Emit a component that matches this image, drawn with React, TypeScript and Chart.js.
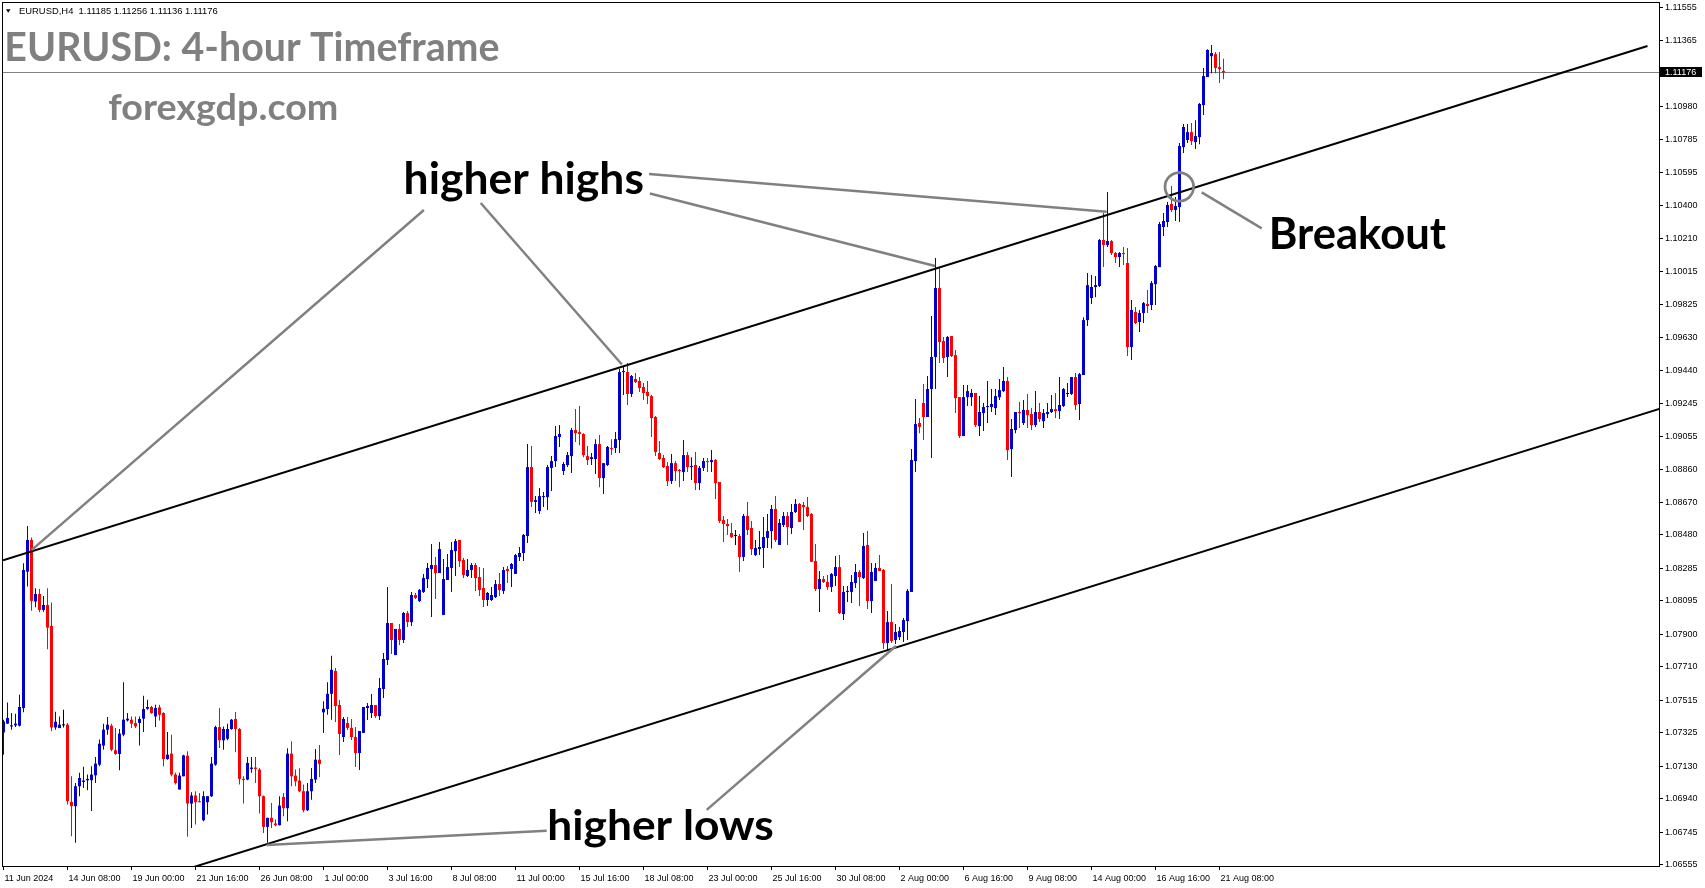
import React, { useEffect, useRef } from "react";
import { Chart, registerables } from "chart.js";

Chart.register(...registerables);

// ---- EURUSD H4 candles (11 Jun 2024 16:00 .. 21 Aug 2024 12:00), one entry per bar ----
const opens = [
  1.07328,1.07379,1.07363,1.07369,1.07367,1.07470,1.08265,1.08450,1.08091,1.08135,
  1.08042,1.08071,1.07949,1.07357,1.07353,1.07369,1.07373,1.06923,1.06898,1.07014,
  1.07039,1.07049,1.07049,1.07078,1.07140,1.07251,1.07344,1.07367,1.07224,1.07202,
  1.07315,1.07398,1.07402,1.07383,1.07383,1.07408,1.07466,1.07476,1.07421,1.07474,
  1.07441,1.07173,1.07204,1.07082,1.06995,1.07072,1.07192,1.06913,1.06960,1.06927,
  1.06816,1.06921,1.06956,1.07140,1.07359,1.07282,1.07291,1.07348,1.07406,1.07348,
  1.07057,1.07053,1.07115,1.07123,1.07111,1.06956,1.06777,1.06830,1.06797,1.06787,
  1.06952,1.06886,1.07204,1.07076,1.07047,1.06985,1.06874,1.06985,1.07053,1.07169,
  1.07445,1.07464,1.07553,1.07686,1.07488,1.07301,1.07383,1.07354,1.07301,1.07208,
  1.07325,1.07470,1.07441,1.07488,1.07423,1.07581,1.07750,1.07966,1.07779,1.07931,
  1.07867,1.08024,1.07971,1.08129,1.08094,1.08147,1.08222,1.08281,1.08304,1.08257,
  1.08013,1.08217,1.08287,1.08385,1.08450,1.08333,1.08240,1.08275,1.08304,1.08234,
  1.08170,1.08100,1.08100,1.08117,1.08193,1.08153,1.08281,1.08281,1.08252,1.08351,
  1.08374,1.08473,1.08875,1.08672,1.08619,1.08700,1.08700,1.08870,1.08910,1.09050,
  1.08852,1.08887,1.08939,1.09091,1.09079,1.09068,1.08939,1.08922,1.08922,1.09009,
  1.08811,1.08887,1.08986,1.08986,1.09033,1.09429,1.09429,1.09301,1.09389,1.09377,
  1.09342,1.09313,1.09289,1.09167,1.08957,1.08928,1.08881,1.08794,1.08898,1.08858,
  1.08846,1.08945,1.08875,1.08887,1.08782,1.08870,1.08910,1.08904,1.08916,1.08788,
  1.08566,1.08543,1.08491,1.08473,1.08473,1.08351,1.08590,1.08520,1.08362,1.08397,
  1.08403,1.08462,1.08502,1.08631,1.08421,1.08537,1.08590,1.08520,1.08613,1.08660,
  1.08654,1.08642,1.08601,1.08327,1.08164,1.08222,1.08205,1.08176,1.08240,1.08292,
  1.08018,1.08147,1.08147,1.08199,1.08263,1.08228,1.08421,1.08094,1.08211,1.08287,
  1.08275,1.07849,1.07971,1.07867,1.07884,1.07913,1.07977,1.08147,1.08910,1.09132,
  1.09249,1.09167,1.09330,1.09517,1.09919,1.09610,1.09517,1.09639,1.09528,1.09283,
  1.09056,1.09283,1.09283,1.09307,1.09114,1.09190,1.09225,1.09225,1.09219,1.09283,
  1.09318,1.09377,1.08980,1.09091,1.09196,1.09132,1.09208,1.09184,1.09120,1.09196,
  1.09143,1.09184,1.09196,1.09213,1.09202,1.09231,1.09301,1.09301,1.09400,1.09243,
  1.09412,1.09732,1.09861,1.09925,1.09931,1.10199,1.10170,1.10193,1.10123,1.10100,
  1.10123,1.10065,1.09575,1.09779,1.09721,1.09773,1.09826,1.09820,1.09942,1.10041,
  1.10275,1.10304,1.10409,1.10374,1.10391,1.10741,1.10782,1.10828,1.10770,1.10799,
  1.10986,1.11149,1.11271,1.11283,1.11207,1.11185,
];

const highs = [
  1.07402,1.07503,1.07441,1.07437,1.07547,1.08314,1.08531,1.08465,1.08168,1.08164,
  1.08124,1.08168,1.08085,1.07449,1.07421,1.07460,1.07383,1.07072,1.07033,1.07092,
  1.07127,1.07082,1.07130,1.07185,1.07286,1.07379,1.07418,1.07379,1.07353,1.07348,
  1.07621,1.07441,1.07421,1.07421,1.07421,1.07542,1.07518,1.07483,1.07489,1.07489,
  1.07445,1.07330,1.07315,1.07092,1.07092,1.07198,1.07218,1.06979,1.06985,1.06975,
  1.06985,1.06956,1.07185,1.07367,1.07470,1.07363,1.07379,1.07406,1.07447,1.07353,
  1.07072,1.07185,1.07185,1.07185,1.07121,1.06960,1.06830,1.06917,1.06820,1.06956,
  1.06975,1.07235,1.07276,1.07111,1.07119,1.07024,1.07033,1.07121,1.07231,1.07255,
  1.07509,1.07621,1.07775,1.07704,1.07517,1.07418,1.07418,1.07406,1.07360,1.07336,
  1.07476,1.07500,1.07552,1.07488,1.07645,1.07791,1.08176,1.07966,1.07931,1.07960,
  1.08030,1.08036,1.08147,1.08141,1.08164,1.08252,1.08316,1.08426,1.08351,1.08438,
  1.08339,1.08368,1.08438,1.08456,1.08450,1.08345,1.08339,1.08316,1.08316,1.08292,
  1.08287,1.08147,1.08176,1.08217,1.08257,1.08292,1.08298,1.08316,1.08368,1.08409,
  1.08485,1.09009,1.08998,1.08706,1.08753,1.08729,1.08887,1.08939,1.09114,1.09120,
  1.08904,1.08963,1.09103,1.09213,1.09231,1.09073,1.08998,1.08957,1.09038,1.09062,
  1.08898,1.08998,1.09038,1.09079,1.09447,1.09458,1.09482,1.09412,1.09423,1.09400,
  1.09365,1.09377,1.09295,1.09173,1.09027,1.08945,1.08904,1.08951,1.08910,1.08864,
  1.09033,1.08963,1.08933,1.08963,1.08881,1.08928,1.08928,1.08974,1.08922,1.08788,
  1.08590,1.08572,1.08549,1.08508,1.08485,1.08601,1.08672,1.08561,1.08450,1.08502,
  1.08584,1.08601,1.08654,1.08706,1.08572,1.08613,1.08613,1.08660,1.08689,1.08666,
  1.08672,1.08700,1.08607,1.08426,1.08269,1.08240,1.08246,1.08257,1.08356,1.08362,
  1.08182,1.08182,1.08246,1.08310,1.08275,1.08491,1.08502,1.08316,1.08316,1.08362,
  1.08281,1.08036,1.08193,1.07960,1.07942,1.07995,1.08164,1.08980,1.09272,1.09161,
  1.09359,1.09406,1.09756,1.10094,1.10041,1.09633,1.09639,1.09639,1.09558,1.09283,
  1.09353,1.09353,1.09330,1.09307,1.09289,1.09249,1.09377,1.09330,1.09330,1.09388,
  1.09458,1.09400,1.09155,1.09196,1.09254,1.09266,1.09301,1.09219,1.09318,1.09249,
  1.09213,1.09249,1.09295,1.09307,1.09400,1.09336,1.09365,1.09400,1.09423,1.09423,
  1.09749,1.10006,1.09995,1.09989,1.10205,1.10356,1.10479,1.10199,1.10129,1.10129,
  1.10158,1.10152,1.09849,1.09808,1.09791,1.09837,1.09907,1.09960,1.10053,1.10304,
  1.10356,1.10420,1.10514,1.10450,1.10764,1.10875,1.10875,1.10881,1.10898,1.10998,
  1.11202,1.11312,1.11336,1.11295,1.11295,1.11256,
];

const lows = [
  1.07198,1.07379,1.07344,1.07359,1.07363,1.07445,1.08178,1.08038,1.08058,1.08029,
  1.08032,1.07813,1.07334,1.07344,1.07353,1.07357,1.06907,1.06723,1.06684,1.06956,
  1.07004,1.06991,1.06869,1.07033,1.07130,1.07227,1.07315,1.07218,1.07198,1.07107,
  1.07305,1.07392,1.07353,1.07353,1.07251,1.07330,1.07460,1.07437,1.07359,1.07398,
  1.07130,1.07169,1.07072,1.07024,1.06995,1.07072,1.06719,1.06771,1.06791,1.06921,
  1.06810,1.06849,1.06952,1.07134,1.07237,1.07227,1.07282,1.07344,1.07212,1.07024,
  1.06913,1.07049,1.07092,1.07033,1.06855,1.06742,1.06684,1.06771,1.06781,1.06785,
  1.06839,1.06810,1.07014,1.07014,1.06979,1.06863,1.06869,1.06936,1.07033,1.07066,
  1.07324,1.07431,1.07402,1.07389,1.07196,1.07272,1.07342,1.07284,1.07126,1.07109,
  1.07325,1.07400,1.07412,1.07412,1.07400,1.07529,1.07721,1.07785,1.07779,1.07837,
  1.07849,1.07942,1.07948,1.08106,1.08088,1.08141,1.08170,1.08001,1.08106,1.08257,
  1.08013,1.08217,1.08147,1.08240,1.08292,1.08228,1.08234,1.08228,1.08153,1.08123,
  1.08059,1.08065,1.08094,1.08112,1.08123,1.08135,1.08199,1.08176,1.08252,1.08327,
  1.08327,1.08432,1.08642,1.08607,1.08601,1.08642,1.08625,1.08735,1.08875,1.08992,
  1.08829,1.08875,1.08840,1.09021,1.09003,1.08933,1.08887,1.08887,1.08835,1.08758,
  1.08718,1.08881,1.08945,1.08957,1.08957,1.09295,1.09237,1.09283,1.09365,1.09313,
  1.09266,1.09243,1.09050,1.08939,1.08916,1.08870,1.08764,1.08776,1.08794,1.08758,
  1.08794,1.08846,1.08800,1.08741,1.08741,1.08852,1.08846,1.08846,1.08689,1.08549,
  1.08438,1.08479,1.08462,1.08420,1.08263,1.08327,1.08479,1.08362,1.08356,1.08362,
  1.08287,1.08403,1.08400,1.08438,1.08421,1.08526,1.08421,1.08485,1.08607,1.08555,
  1.08508,1.08584,1.08322,1.08153,1.08030,1.08199,1.08158,1.08147,1.08182,1.08018,
  1.07983,1.08088,1.08083,1.08170,1.08065,1.08222,1.08048,1.08024,1.08211,1.08269,
  1.07814,1.07802,1.07849,1.07843,1.07867,1.07855,1.07867,1.08147,1.08846,1.09073,
  1.09033,1.09167,1.08928,1.09330,1.09482,1.09482,1.09400,1.09517,1.09190,1.09044,
  1.09056,1.09231,1.09231,1.09109,1.09056,1.09085,1.09132,1.09196,1.09178,1.09266,
  1.09313,1.08916,1.08817,1.09073,1.09103,1.09120,1.09103,1.09091,1.09109,1.09138,
  1.09103,1.09161,1.09190,1.09161,1.09155,1.09225,1.09283,1.09295,1.09208,1.09149,
  1.09412,1.09697,1.09826,1.09866,1.09925,1.10041,1.10158,1.10111,1.10065,1.10041,
  1.10053,1.09523,1.09499,1.09709,1.09662,1.09715,1.09773,1.09791,1.09820,1.10041,
  1.10222,1.10275,1.10362,1.10310,1.10304,1.10706,1.10764,1.10753,1.10729,1.10758,
  1.10928,1.11149,1.11172,1.11172,1.11114,1.11136,
];

const closes = [
  1.07392,1.07412,1.07369,1.07379,1.07476,1.08275,1.08450,1.08095,1.08135,1.08042,
  1.08071,1.07939,1.07357,1.07390,1.07373,1.07369,1.06927,1.06898,1.07014,1.07062,
  1.07047,1.07057,1.07082,1.07146,1.07262,1.07344,1.07373,1.07227,1.07202,1.07321,
  1.07402,1.07408,1.07379,1.07363,1.07406,1.07464,1.07476,1.07441,1.07470,1.07431,
  1.07173,1.07198,1.07082,1.07033,1.07076,1.07194,1.06913,1.06960,1.06921,1.06921,
  1.06956,1.06956,1.07146,1.07359,1.07282,1.07348,1.07348,1.07402,1.07348,1.07057,
  1.07051,1.07150,1.07123,1.07115,1.06956,1.06777,1.06830,1.06804,1.06787,1.06901,
  1.06886,1.07204,1.07072,1.07043,1.06985,1.06874,1.06985,1.07057,1.07169,1.07144,
  1.07466,1.07553,1.07693,1.07482,1.07319,1.07406,1.07354,1.07301,1.07208,1.07336,
  1.07476,1.07482,1.07488,1.07423,1.07587,1.07756,1.07966,1.07867,1.07931,1.07867,
  1.08024,1.07971,1.08129,1.08112,1.08158,1.08228,1.08287,1.08304,1.08257,1.08397,
  1.08222,1.08292,1.08391,1.08444,1.08327,1.08246,1.08275,1.08304,1.08228,1.08158,
  1.08100,1.08141,1.08129,1.08193,1.08158,1.08275,1.08269,1.08310,1.08362,1.08374,
  1.08479,1.08875,1.08672,1.08683,1.08706,1.08706,1.08875,1.08910,1.09056,1.09068,
  1.08893,1.08945,1.09091,1.09073,1.09068,1.08945,1.08916,1.08933,1.09009,1.08811,
  1.08898,1.08992,1.08980,1.09038,1.09429,1.09435,1.09301,1.09406,1.09371,1.09336,
  1.09307,1.09289,1.09161,1.08963,1.08922,1.08875,1.08794,1.08898,1.08852,1.08852,
  1.08945,1.08875,1.08881,1.08782,1.08870,1.08910,1.08904,1.08916,1.08782,1.08561,
  1.08543,1.08531,1.08467,1.08473,1.08351,1.08590,1.08508,1.08397,1.08403,1.08409,
  1.08467,1.08502,1.08631,1.08450,1.08549,1.08590,1.08526,1.08613,1.08660,1.08555,
  1.08642,1.08590,1.08322,1.08164,1.08222,1.08205,1.08176,1.08252,1.08292,1.08024,
  1.08147,1.08153,1.08205,1.08263,1.08234,1.08415,1.08094,1.08263,1.08287,1.08269,
  1.07849,1.07971,1.07861,1.07913,1.07919,1.07983,1.08153,1.08916,1.09126,1.09109,
  1.09167,1.09330,1.09517,1.09919,1.09604,1.09511,1.09633,1.09522,1.09277,1.09056,
  1.09283,1.09318,1.09307,1.09120,1.09196,1.09225,1.09231,1.09243,1.09289,1.09324,
  1.09377,1.08974,1.09097,1.09196,1.09190,1.09208,1.09178,1.09120,1.09196,1.09155,
  1.09190,1.09196,1.09213,1.09202,1.09237,1.09330,1.09307,1.09400,1.09237,1.09417,
  1.09732,1.09936,1.09925,1.09936,1.10199,1.10170,1.10193,1.10123,1.10100,1.10123,
  1.10117,1.09575,1.09791,1.09715,1.09773,1.09831,1.09814,1.09948,1.10047,1.10292,
  1.10310,1.10403,1.10374,1.10397,1.10747,1.10858,1.10828,1.10776,1.10805,1.10992,
  1.11155,1.11307,1.11289,1.11202,1.11196,1.11176,
];

// ---- axis tick labels ----
const xTickIndex = [0, 16, 32, 48, 64, 80, 96, 112, 128, 144, 160, 176, 192, 208, 224, 240, 256, 272, 288, 304];
const xTickLabels = [
  "11 Jun 2024", "14 Jun 08:00", "19 Jun 00:00", "21 Jun 16:00", "26 Jun 08:00",
  "1 Jul 00:00", "3 Jul 16:00", "8 Jul 08:00", "11 Jul 00:00", "15 Jul 16:00",
  "18 Jul 08:00", "23 Jul 00:00", "25 Jul 16:00", "30 Jul 08:00", "2 Aug 00:00",
  "6 Aug 16:00", "9 Aug 08:00", "14 Aug 00:00", "16 Aug 16:00", "21 Aug 08:00",
];
const yTickLabels = [
  "1.06555", "1.06745", "1.06940", "1.07130", "1.07325", "1.07515", "1.07710", "1.07900",
  "1.08095", "1.08285", "1.08480", "1.08670", "1.08860", "1.09055", "1.09245", "1.09440",
  "1.09630", "1.09825", "1.10015", "1.10210", "1.10400", "1.10595", "1.10785", "1.10980",
  "1.11365", "1.11555",
];
const headerText = "EURUSD,H4  1.11185 1.11256 1.11136 1.11176";

// ---- trend channel (bar index, price) ----
const upperChannel = [{ x: -0.125, y: 1.08332 }, { x: 411, y: 1.1133 }];
const lowerChannel = [{ x: 47, y: 1.06539 }, { x: 414, y: 1.09215 }];

// ---- annotation connectors (bar index, price) ----
const higherHighLinks = [
  { from: [105.1, 1.10374], to: [7.0, 1.08391] },
  { from: [119.3, 1.10415], to: [154.6, 1.09473] },
  { from: [161.4, 1.10584], to: [275.8, 1.10364] },
  { from: [161.6, 1.1047], to: [232.9, 1.10047] },
];
const higherLowLinks = [
  { from: [135.8, 1.06755], to: [65.8, 1.06672] },
  { from: [175.8, 1.06876], to: [223.1, 1.07832] },
];
const breakoutLink = { from: [314.55, 1.10267], to: [299.55, 1.10477] };
const breakoutCircle = { x: 293.95, y: 1.10509 };

const BULL = "#0000CC";
const BEAR = "#FF0000";
const DOJI = "#000000";
const GREY = "#808080";

function inkText(
  ctx: CanvasRenderingContext2D,
  text: string,
  family: string,
  weight: string,
  box: { left: number; right: number; top: number; base: number },
  color: string
) {
  ctx.save();
  ctx.textAlign = "left";
  ctx.textBaseline = "alphabetic";
  ctx.font = `${weight} 100px ${family}`;
  const m0 = ctx.measureText(text);
  const size = (100 * (box.base - box.top)) / m0.actualBoundingBoxAscent;
  ctx.font = `${weight} ${size}px ${family}`;
  const m = ctx.measureText(text);
  const inkW = m.actualBoundingBoxLeft + m.actualBoundingBoxRight;
  const sx = (box.right - box.left) / inkW;
  ctx.fillStyle = color;
  ctx.translate(box.left + m.actualBoundingBoxLeft * sx, box.base);
  ctx.scale(sx, 1);
  ctx.fillText(text, 0, 0);
  ctx.restore();
}

export default function App() {
  const ref = useRef<HTMLCanvasElement>(null);

  useEffect(() => {
    document.body.style.margin = "0";
    const canvas = ref.current;
    if (!canvas) return;

    const colors = opens.map((o, i) => (closes[i] > o ? BULL : closes[i] < o ? BEAR : DOJI));
    const wicks = opens.map((_, i) => ({ x: i, y: [lows[i], highs[i]] }));
    const bodies = opens.map((o, i) => ({ x: i, y: [Math.min(o, closes[i]), Math.max(o, closes[i])] }));
    const lastClose = closes[closes.length - 1];

    const overlay = {
      id: "overlay",
      beforeDatasetsDraw(chart: any) {
        const { ctx, chartArea } = chart;
        const ys = chart.scales.y;
        const py = Math.round(ys.getPixelForValue(lastClose)) + 0.5;
        ctx.save();
        ctx.strokeStyle = GREY;
        ctx.lineWidth = 1;
        ctx.beginPath();
        ctx.moveTo(chartArea.left, py);
        ctx.lineTo(chartArea.right, py);
        ctx.stroke();
        ctx.restore();
      },
      afterDatasetsDraw(chart: any) {
        const { ctx } = chart;
        const xs = chart.scales.x;
        const ys = chart.scales.y;
        const P = (pt: number[]) => [xs.getPixelForValue(pt[0]), ys.getPixelForValue(pt[1])];
        ctx.save();
        ctx.strokeStyle = GREY;
        ctx.lineWidth = 2.5;
        ctx.lineCap = "butt";
        const links = [...higherHighLinks, ...higherLowLinks, breakoutLink];
        for (const l of links) {
          const a = P(l.from);
          const b = P(l.to);
          ctx.beginPath();
          ctx.moveTo(a[0], a[1]);
          ctx.lineTo(b[0], b[1]);
          ctx.stroke();
        }
        const c = P([breakoutCircle.x, breakoutCircle.y]);
        ctx.lineWidth = 2.7;
        ctx.beginPath();
        ctx.arc(c[0], c[1], 14.3, 0, Math.PI * 2);
        ctx.stroke();
        ctx.restore();

        inkText(ctx, "EURUSD: 4-hour Timeframe", "Lato", "700", { left: 7.3, right: 499, top: 30.7, base: 60.5 }, GREY);
        inkText(ctx, "forexgdp.com", "Lato", "700", { left: 108.3, right: 337.3, top: 92, base: 119.5 }, GREY);
        inkText(ctx, "higher highs", "Lato", "700", { left: 405.6, right: 642.6, top: 161, base: 193.5 }, "#000");
        inkText(ctx, "Breakout", "Lato", "700", { left: 1271.7, right: 1446.7, top: 216.7, base: 249.3 }, "#000");
        inkText(ctx, "higher lows", "Lato", "700", { left: 549.3, right: 773, top: 808.3, base: 840 }, "#000");
      },
      afterDraw(chart: any) {
        const { ctx, chartArea } = chart;
        const ys = chart.scales.y;
        ctx.save();
        // frame
        ctx.strokeStyle = "#000";
        ctx.lineWidth = 1;
        ctx.strokeRect(
          Math.floor(chartArea.left) - 0.5,
          Math.floor(chartArea.top) - 0.5,
          Math.round(chartArea.right) - Math.floor(chartArea.left) + 1,
          Math.round(chartArea.bottom) - Math.floor(chartArea.top) + 1
        );
        // current price box
        const py = Math.round(ys.getPixelForValue(lastClose));
        ctx.fillStyle = "#000";
        ctx.fillRect(1660, py - 5, 42, 10);
        ctx.fillStyle = "#fff";
        ctx.font = "9px 'Liberation Sans'";
        ctx.textAlign = "left";
        ctx.textBaseline = "middle";
        ctx.fillText(lastClose.toFixed(5), 1665, py + 0.5);
        // header triangle
        ctx.fillStyle = "#000";
        ctx.beginPath();
        ctx.moveTo(6, 9.3);
        ctx.lineTo(10.5, 9.3);
        ctx.lineTo(8.25, 12.7);
        ctx.closePath();
        ctx.fill();
        ctx.restore();
        inkText(ctx, headerText, "'Liberation Sans'", "400", { left: 19, right: 218, top: 8, base: 14 }, "#000");
      },
    };

    const tickFont = { family: "'Liberation Sans'", size: 9 };

    const chart = new Chart(canvas, {
      type: "bar",
      data: {
        datasets: [
          {
            type: "line",
            data: upperChannel,
            borderColor: "#000",
            borderWidth: 2,
            pointRadius: 0,
            fill: false,
            tension: 0,
            order: 1,
          } as any,
          {
            type: "line",
            data: lowerChannel,
            borderColor: "#000",
            borderWidth: 2,
            pointRadius: 0,
            fill: false,
            tension: 0,
            order: 1,
          } as any,
          {
            type: "bar",
            data: bodies,
            backgroundColor: colors,
            borderWidth: 0,
            barThickness: 3,
            minBarLength: 1,
            grouped: false,
            inflateAmount: 0,
            order: 2,
          } as any,
          {
            type: "bar",
            data: wicks,
            backgroundColor: colors,
            borderWidth: 0,
            barThickness: 1,
            grouped: false,
            inflateAmount: 0,
            order: 3,
          } as any,
        ],
      },
      options: {
        responsive: false,
        animation: false,
        devicePixelRatio: 1,
        layout: { padding: { left: 3, top: 3, right: 0, bottom: 0 } },
        plugins: { legend: { display: false }, tooltip: { enabled: false } },
        scales: {
          x: {
            type: "linear",
            bounds: "data",
            min: -0.125,
            max: 413.875,
            offset: false,
            grid: { display: true, drawOnChartArea: false, drawTicks: true, tickLength: 4, color: "#000", offset: false },
            border: { display: false },
            ticks: {
              autoSkip: false,
              maxRotation: 0,
              minRotation: 0,
              align: "start",
              labelOffset: 1,
              padding: 3,
              font: tickFont,
              color: "#000",
              callback: (_v: any, i: number) => xTickLabels[i],
            },
            afterBuildTicks: (s: any) => {
              s.ticks = xTickIndex.map((v) => ({ value: v }));
            },
            afterFit: (s: any) => {
              s.height = 22;
              s.paddingLeft = 0;
              s.paddingRight = 0;
            },
          },
          y: {
            type: "linear",
            position: "right",
            bounds: "data",
            min: 1.06549,
            max: 1.11581,
            grid: { display: true, drawOnChartArea: false, drawTicks: true, tickLength: 4, color: "#000" },
            border: { display: false },
            ticks: {
              autoSkip: false,
              padding: 2,
              font: tickFont,
              color: "#000",
              callback: (_v: any, i: number) => yTickLabels[i],
            },
            afterBuildTicks: (s: any) => {
              s.ticks = yTickLabels.map((l) => ({ value: Number(l) }));
            },
            afterFit: (s: any) => {
              s.width = 46;
              s.paddingTop = 0;
              s.paddingBottom = 0;
            },
          },
        },
      } as any,
      plugins: [overlay],
    });

    return () => chart.destroy();
  }, []);

  return (
    <div style={{ width: 1705, height: 888, background: "#fff" }}>
      <canvas ref={ref} width={1705} height={888} style={{ display: "block" }} />
    </div>
  );
}
